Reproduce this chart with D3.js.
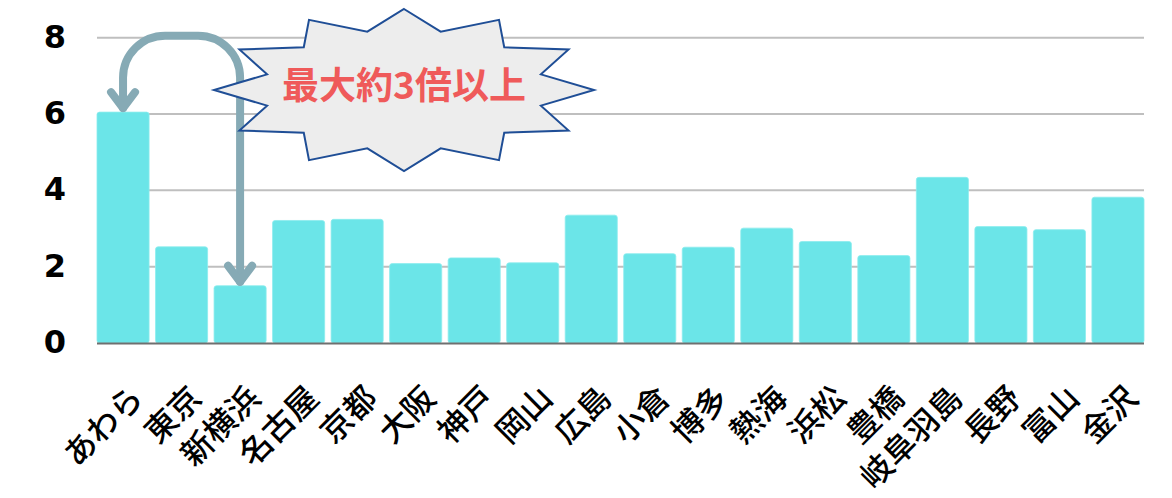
<!DOCTYPE html>
<html>
<head>
<meta charset="utf-8">
<script src="https://cdn.jsdelivr.net/npm/d3@7"></script>
<style>
  html, body { margin: 0; padding: 0; background: #fff; }
  svg { display: block; }
</style>
</head>
<body>
<svg id="chart" width="1172" height="498"></svg>
<script>
// Stations along the line and their values
const stations = ["あわら", "東京", "新横浜", "名古屋", "京都", "大阪", "神戸", "岡山", "広島",
                  "小倉", "博多", "熱海", "浜松", "豊橋", "岐阜羽島", "長野", "富山", "金沢"];
const values = [6.05, 2.52, 1.50, 3.21, 3.24, 2.08, 2.23, 2.10, 3.35,
                2.34, 2.51, 3.01, 2.66, 2.29, 4.34, 3.05, 2.97, 3.82];
const yTicks = [0, 2, 4, 6, 8];
const calloutText = "最大約3倍以上";

const svg = d3.select("#chart");
const plot = { left: 97, right: 1144, top: 37.7, bottom: 343 };

const x = d3.scaleBand()
  .domain(stations)
  .range([plot.left, plot.right])
  .paddingInner(0.11)
  .paddingOuter(0);

const y = d3.scaleLinear()
  .domain([0, 8])
  .range([plot.bottom, plot.top]);

const bw = x.bandwidth();
const jp = "'Noto Sans CJK JP', 'Noto Sans', sans-serif";

// Horizontal gridlines
svg.append("g")
  .selectAll("line")
  .data(yTicks.filter(t => t > 0))
  .join("line")
  .attr("x1", plot.left)
  .attr("x2", plot.right)
  .attr("y1", d => y(d))
  .attr("y2", d => y(d))
  .attr("stroke", "#bfbfbf")
  .attr("stroke-width", 2);

// Y axis tick labels
const yAxis = d3.axisLeft(y).tickValues(yTicks).tickSize(0).tickPadding(0);
const yg = svg.append("g")
  .attr("transform", `translate(${plot.left - 31},0)`)
  .call(yAxis);
yg.select(".domain").remove();
yg.selectAll("text")
  .attr("font-family", "'DejaVu Sans', sans-serif")
  .attr("font-weight", 700)
  .attr("font-size", 32)
  .attr("fill", "#000")
  .attr("dy", "0.3em");

// Bars
svg.append("g")
  .selectAll("rect")
  .data(stations.map((s, i) => ({ s, v: values[i] })))
  .join("rect")
  .attr("x", d => x(d.s))
  .attr("y", d => y(d.v))
  .attr("width", bw)
  .attr("height", d => y(0) - y(d.v))
  .attr("rx", 2.5)
  .attr("fill", "#6be5e8")
  .attr("stroke", "#8cecee")
  .attr("stroke-width", 0.8);

// Baseline
svg.append("line")
  .attr("x1", plot.left)
  .attr("x2", plot.right)
  .attr("y1", y(0) + 0.5)
  .attr("y2", y(0) + 0.5)
  .attr("stroke", "#6f6f6f")
  .attr("stroke-width", 2);

// X axis labels, rotated
svg.append("g")
  .selectAll("text")
  .data(stations)
  .join("text")
  .attr("transform", d => `translate(${x(d) + bw / 2 + 22},${plot.bottom + 57}) rotate(-45)`)
  .attr("text-anchor", "end")
  .attr("font-family", jp)
  .attr("font-weight", 500)
  .attr("font-size", 32)
  .attr("fill", "#000")
  .text(d => d);

// Bent arrow linking the highest and lowest stations
const hi = stations[values.indexOf(d3.max(values))];
const lo = stations[values.indexOf(d3.min(values))];
const ax1 = x(hi) + bw / 2;
const ax2 = x(lo) + bw / 2;
const tip1 = y(d3.max(values)) - 4;
const tip2 = y(d3.min(values)) - 4;
const topY = y(8) - 2;
const r = 42;
const arrowPath = d3.path();
arrowPath.moveTo(ax1, tip1);
arrowPath.lineTo(ax1, topY + r);
arrowPath.arcTo(ax1, topY, ax1 + r, topY, r);
arrowPath.lineTo(ax2 - r, topY);
arrowPath.arcTo(ax2, topY, ax2, topY + r, r);
arrowPath.lineTo(ax2, tip2);

const arrow = svg.append("g")
  .attr("fill", "none")
  .attr("stroke", "#86aab5")
  .attr("stroke-width", 8)
  .attr("stroke-linecap", "round")
  .attr("stroke-linejoin", "round");
arrow.append("path").attr("d", arrowPath.toString());
[[ax1, tip1], [ax2, tip2]].forEach(([hx, hy]) => {
  arrow.append("path")
    .attr("d", `M${hx - 12},${hy - 16} L${hx},${hy} L${hx + 12},${hy - 16}`);
});

// Twelve-point star callout
const callout = { cx: 404, cy: 90, rx: 190, ry: 81, inner: 0.746, points: 12 };
const starPts = d3.range(callout.points * 2).map(k => {
  const a = k * Math.PI / callout.points;
  const f = k % 2 === 0 ? 1 : callout.inner;
  return [callout.cx + Math.sin(a) * callout.rx * f, callout.cy - Math.cos(a) * callout.ry * f];
});
svg.append("path")
  .attr("d", d3.line()(starPts) + "Z")
  .attr("fill", "#ededed")
  .attr("stroke", "#1f4e96")
  .attr("stroke-width", 2)
  .attr("stroke-linejoin", "miter");

svg.append("text")
  .attr("x", callout.cx)
  .attr("y", callout.cy - 7)
  .attr("text-anchor", "middle")
  .attr("dominant-baseline", "central")
  .attr("font-family", jp)
  .attr("font-weight", 700)
  .attr("font-size", 37)
  .attr("fill", "#ef5a5a")
  .text(calloutText);
</script>
</body>
</html>
